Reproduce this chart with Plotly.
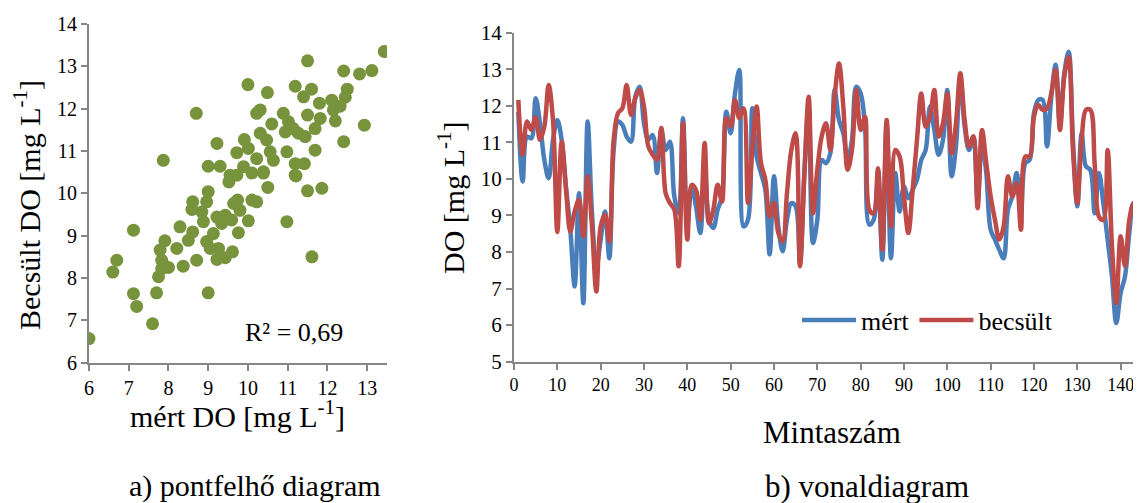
import plotly.graph_objects as go

# ---- scatter data (mért vs becsült) ----
scatter_mert = [13.43, 11.5, 13.12, 12.81, 12.41, 10.0, 10.49, 8.7, 11.19, 11.6, 11.4, 12.5, 12.45,
                12.11, 11.8, 12.32, 12.15, 12.2, 11.5, 11.82, 11.69, 12.93, 12.41, 11.69, 10.89,
                11.02, 11.14, 10.94, 11.27, 11.44, 10.22, 10.31, 10.6, 10.31, 10.47, 9.91, 9.22,
                7.87, 9.72, 10.01, 10.56, 10.98, 10.22, 10.64, 11.19, 11.42, 9.0, 9.3, 9.89, 10.39,
                11.19, 9.55, 11.86, 11.5, 10.5, 11.21, 9.0, 9.52, 9.72, 10.1, 10.39, 8.61, 8.96,
                9.64, 9.74, 10.1, 10.22, 8.59, 8.84, 9.8, 10.98, 10.01, 8.88, 9.22, 9.43, 9.59,
                9.34, 8.29, 7.12, 8.61, 9.76, 9.13, 8.5, 7.91, 8.21, 8.96, 9.05, 9.26, 7.79, 9.61,
                9.43, 11.61, 9.22, 8.71, 6.7, 7.83, 8.0, 7.83, 8.37, 6.6, 7.75, 7.12, 7.7, 9.0,
                7.2, 7.6, 6.0]
scatter_becsult = [13.35, 13.13, 12.9, 12.82, 12.89, 12.57, 12.38, 11.89, 12.53, 12.46, 12.28, 12.46,
                   12.27, 12.2, 12.13, 12.06, 11.97, 11.71, 11.85, 11.77, 11.53, 11.61, 11.22, 11.02,
                   11.89, 11.69, 11.53, 11.45, 11.42, 11.34, 11.89, 11.97, 11.64, 11.42, 11.26,
                   11.27, 11.18, 10.78, 10.96, 11.06, 10.98, 10.98, 10.82, 10.78, 10.7, 10.7, 10.64,
                   10.64, 10.63, 10.51, 10.43, 10.43, 10.12, 10.06, 10.14, 10.41, 10.04, 10.27,
                   10.43, 10.48, 10.48, 9.8, 9.8, 9.76, 9.84, 9.84, 9.8, 9.62, 9.56, 9.6, 9.33, 9.35,
                   9.33, 9.44, 9.48, 9.37, 9.29, 9.21, 9.13, 9.09, 9.07, 9.05, 8.89, 8.88, 8.7, 8.86,
                   8.7, 8.7, 8.66, 8.62, 8.48, 8.5, 8.44, 8.42, 8.42, 8.42, 8.25, 8.22, 8.28, 8.14,
                   8.03, 7.63, 7.65, 7.65, 7.33, 6.92, 6.57]
r2_text = "R² = 0,69"

# ---- line data ----
minta = list(range(1, 146))
mert = [11.84, 9.93, 11.16, 11.11, 12.21, 11.52, 10.52, 10.02, 11.07, 11.61,
        11.07, 9.79, 8.61, 7.06, 9.61, 6.6, 11.57, 9.06, 7.61, 8.34,
        9.11, 7.83, 10.79, 11.57, 11.48, 11.16, 11.02, 12.25, 12.52, 11.52,
        11.07, 11.2, 10.16, 11.34, 10.79, 11.02, 9.52, 9.06, 11.66, 8.70,
        9.79, 9.25, 8.52, 10.4, 8.88, 8.66, 9.16, 9.52, 11.84, 11.25,
        12.34, 12.98, 8.70, 8.88, 11.93, 10.61, 10.16, 9.7, 7.93, 10.07,
        8.7, 8.02, 8.88, 9.34, 9.25, 7.7, 10.16, 11.98, 8.25, 8.88,
        10.52, 10.43, 10.7, 12.43, 11.61, 11.25, 10.52, 11.07, 12.52, 12.34,
        11.43, 8.75, 8.88, 10.07, 7.79, 11.52, 7.83, 10.16, 9.11, 9.79,
        9.47, 9.7, 9.98, 10.52, 10.79, 11.98, 11.34, 10.66, 11.07, 12.43,
        10.07, 10.89, 12.8, 11.43, 10.79, 11.16, 9.43, 11.0, 10.16, 8.61,
        8.34, 8.06, 7.83, 9.16, 9.52, 10.16, 9.06, 10.43, 10.52, 11.8,
        12.16, 12.16, 10.89, 12.25, 13.12, 11.52, 12.89, 13.48, 11.07, 9.25,
        11.25, 10.34, 10.25, 9.06, 10.16, 9.34, 8.34, 7.33, 6.06, 6.88,
        7.33, 8.52, 9.34, 9.16, 9.3]
becsult = [12.16, 10.66, 11.57, 11.34, 11.69, 11.07, 11.43, 12.57, 11.61, 8.55,
           11.02, 9.7, 8.56, 9.11, 9.43, 8.43, 10.07, 8.7, 6.92, 8.7,
           9.02, 8.29, 11.07, 11.8, 11.93, 12.57, 11.75, 12.21, 12.43, 11.98,
           10.89, 10.66, 10.52, 11.39, 9.61, 9.34, 9.16, 7.61, 11.52, 8.34,
           9.84, 9.7, 8.88, 10.98, 8.79, 9.16, 9.84, 9.38, 11.66, 11.43,
           12.16, 11.66, 11.93, 9.34, 10.79, 11.98, 10.43, 9.98, 8.97, 9.34,
           8.52, 8.29, 9.61, 10.79, 11.25, 7.61, 10.07, 12.25, 9.06, 10.25,
           11.16, 11.52, 10.79, 12.25, 13.16, 11.98, 10.25, 10.79, 12.43, 11.34,
           11.7, 9.16, 9.06, 10.29, 8.06, 11.61, 8.7, 10.79, 10.61, 9.52,
           8.52, 9.7, 11.07, 12.34, 11.43, 11.7, 12.43, 11.16, 11.52, 12.34,
           10.7, 11.52, 12.89, 11.61, 10.89, 11.16, 9.2, 11.34, 10.43, 9.52,
           8.88, 8.34, 8.7, 10.07, 9.52, 9.88, 8.61, 10.61, 10.61, 11.7,
           12.02, 11.89, 11.93, 12.34, 12.98, 11.34, 12.8, 13.34, 10.79, 9.34,
           11.07, 11.89, 11.89, 10.43, 8.97, 8.88, 10.79, 8.16, 6.6, 8.43,
           7.61, 8.88, 9.34, 8.88, 9.3]

series_names = ["mért", "becsült"]
W, H = 1141, 503
OFF = 8  # page body margin offsets the figure by 8px
FONT = "Liberation Serif"
AX = "#868686"


def px(x):
    return (x - OFF) / W


def py(y):
    return 1 - (y - OFF) / H


fig = go.Figure()
fig.add_trace(go.Scatter(x=scatter_mert, y=scatter_becsult, mode="markers",
                         marker=dict(color="#77933C", size=13, line=dict(width=0)),
                         xaxis="x", yaxis="y", showlegend=False))
fig.add_trace(go.Scatter(x=minta, y=mert, mode="lines", name=series_names[0],
                         line=dict(color="#4A7EBB", width=4.5, shape="spline", smoothing=1.0),
                         xaxis="x2", yaxis="y2"))
fig.add_trace(go.Scatter(x=minta, y=becsult, mode="lines", name=series_names[1],
                         line=dict(color="#BE4B48", width=4.5, shape="spline", smoothing=1.0),
                         xaxis="x2", yaxis="y2"))


def axis_style(size):
    return dict(showgrid=False, zeroline=False, showline=True, linecolor=AX, linewidth=2,
                ticks="outside", tickcolor=AX, tickwidth=2, ticklen=6, automargin=False,
                tickfont=dict(family=FONT, size=size, color="black"))


fig.update_layout(
    width=W, height=H, autosize=False,
    margin=dict(l=0, r=0, t=0, b=0, pad=0, autoexpand=False),
    paper_bgcolor="white", plot_bgcolor="white",
    font=dict(family=FONT, color="black", size=20),
    xaxis=dict(domain=[px(89), px(387)], range=[6, 13.5], dtick=1, tick0=6,
               anchor="y", **axis_style(20)),
    yaxis=dict(domain=[py(362.7), py(24)], range=[6, 14], dtick=1, tick0=6,
               anchor="x", **axis_style(20)),
    xaxis2=dict(domain=[px(514), px(1141)], range=[0, 144.7], dtick=10, tick0=0,
                anchor="y2", **axis_style(18)),
    yaxis2=dict(domain=[py(361.7), py(32.7)], range=[5, 14], dtick=1, tick0=5,
                anchor="x2", **axis_style(21)),
    legend=dict(orientation="h", x=px(797), y=py(320), xanchor="left", yanchor="middle",
                font=dict(family=FONT, size=26, color="black"), bgcolor="rgba(0,0,0,0)",
                itemwidth=54, tracegroupgap=0),
    showlegend=True,
)

ann = [
    dict(text="Becsült DO [mg L<sup>-1</sup>]", x=px(27), y=py(205), textangle=-90, size=30),
    dict(text="mért DO [mg L<sup>-1</sup>]", x=px(237), y=py(414), textangle=0, size=30),
    dict(text="a) pontfelhő diagram", x=px(255), y=py(486), textangle=0, size=30),
    dict(text=r2_text, x=px(294), y=py(332), textangle=0, size=26),
    dict(text="DO [mg L<sup>-1</sup>]", x=px(451), y=py(198), textangle=-90, size=30),
    dict(text="Mintaszám", x=px(832), y=py(432), textangle=0, size=31),
    dict(text="b) vonaldiagram", x=px(867), y=py(486), textangle=0, size=31),
]
for a in ann:
    fig.add_annotation(text=a["text"], x=a["x"], y=a["y"], xref="paper", yref="paper",
                       xanchor="center", yanchor="middle", showarrow=False,
                       textangle=a["textangle"],
                       font=dict(family=FONT, size=a["size"], color="black"))

fig.write_html("out.html")
